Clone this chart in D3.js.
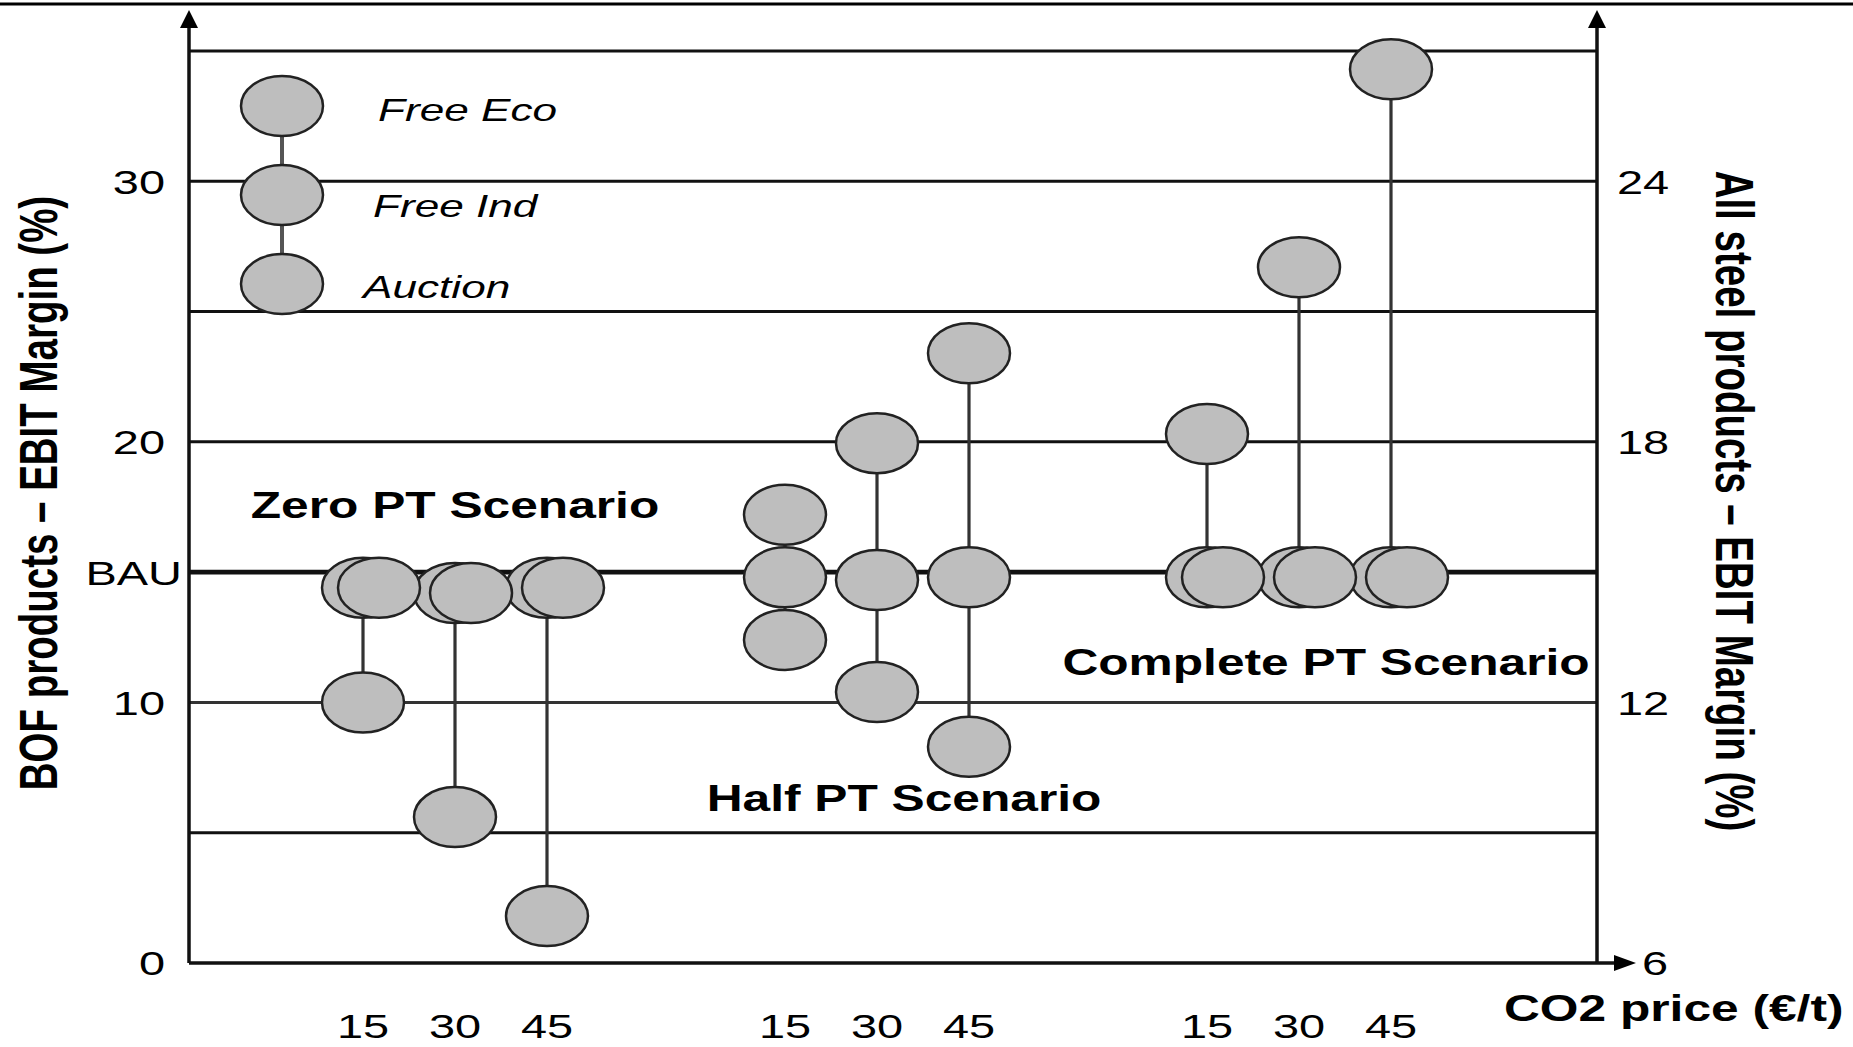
<!DOCTYPE html>
<html><head><meta charset="utf-8">
<script src="https://cdn.jsdelivr.net/npm/d3@7"></script>
<style>body{margin:0;background:#fff}svg{display:block}text{font-family:"Liberation Sans",Arial,sans-serif;fill:#000}</style>
</head><body><svg id="c" width="1853" height="1047"></svg>
<script>
const groups = ["Zero PT", "Half PT", "Complete PT"];
const groupLabels = ["Zero PT Scenario", "Half PT Scenario", "Complete PT Scenario"];
const prices = [15, 30, 45];
const seriesNames = ["Free Eco", "Free Ind", "Auction"];
// values per (group, price) in order Zero15..45, Half15..45, Complete15..45  (BOF EBIT margin %)
const freeEco = [14.4, 14.2, 14.4, 17.2, 19.95, 23.4, 20.3, 26.7, 34.3];
const freeInd = [14.4, 14.2, 14.4, 14.8, 14.7, 14.8, 14.8, 14.8, 14.8];
const auction = [10.0, 5.6, 1.8, 12.4, 10.4, 8.3, 14.8, 14.8, 14.8];
const leftTicks = [0, 10, 15, 20, 30];
const leftTickLabels = ["0", "10", "BAU", "20", "30"];
const rightTicks = [6, 12, 18, 24];
const gridValues = [5, 10, 15, 20, 25, 30, 35];

const svg = d3.select("#c");
const SX = 1.38; // horizontal text stretch of the original figure
const L = 189, R = 1597;
const y = d3.scaleLinear().domain([0, 35]).range([963, 51]);
const y2 = d3.scaleLinear().domain([6, 27]).range([963, 51]);
const xg = d3.scaleBand().domain(groups).range([244, 1510]);
const xp = d3.scalePoint().domain(prices).range([-92, 92]);
const xc = (g, p) => xg(g) + xg.bandwidth() / 2 + xp(p);

// top border
svg.append("line").attr("x1", 0).attr("x2", 1853).attr("y1", 4).attr("y2", 4).attr("stroke", "#000").attr("stroke-width", 3);

// gridlines
svg.append("g").selectAll("line").data(gridValues).join("line")
  .attr("x1", L).attr("x2", R).attr("y1", d => y(d)).attr("y2", d => y(d))
  .attr("stroke", d => d === 10 ? "#333" : "#111")
  .attr("stroke-width", d => d === 15 ? 4.8 : 3);

// left axis
const gl = svg.append("g").attr("transform", `translate(${L},0)`)
  .call(d3.axisLeft(y).tickValues(leftTicks).tickSize(0).tickFormat((d, i) => leftTickLabels[i]));
gl.select(".domain").remove();
gl.selectAll("text").attr("x", 0).attr("dy", "0.35em")
  .attr("transform", d => `translate(${d === 15 ? -7 : -24},0) scale(${SX},1)`)
  .style("font-size", "34px").attr("font-family", null);

// right axis
const gr = svg.append("g").attr("transform", `translate(${R},0)`)
  .call(d3.axisRight(y2).tickValues(rightTicks).tickSize(0));
gr.select(".domain").remove();
gr.selectAll("text").attr("x", 0).attr("dy", "0.35em")
  .attr("transform", d => `translate(${d === 6 ? 45 : 20},0) scale(${SX},1)`)
  .style("font-size", "34px").attr("font-family", null);

// axis lines with arrows
const ax = svg.append("g").attr("stroke", "#111").attr("stroke-width", 3.5);
ax.append("line").attr("x1", L).attr("x2", L).attr("y1", y(0)).attr("y2", 18);
ax.append("line").attr("x1", R).attr("x2", R).attr("y1", y(0)).attr("y2", 18);
ax.append("line").attr("x1", L).attr("x2", 1630).attr("y1", y(0)).attr("y2", y(0));
svg.append("path").attr("d", `M${L},10 L${L - 9},28 L${L + 9},28 Z`).attr("fill", "#000");
svg.append("path").attr("d", `M${R},10 L${R - 9},28 L${R + 9},28 Z`).attr("fill", "#000");
svg.append("path").attr("d", `M1636,${y(0)} L1614,${y(0) - 8} L1614,${y(0) + 8} Z`).attr("fill", "#000");

// x tick labels
const xt = [];
groups.forEach(g => prices.forEach(p => xt.push({ g, p })));
svg.append("g").selectAll("text").data(xt).join("text")
  .attr("transform", d => `translate(${xc(d.g, d.p)},1026) scale(${SX},1)`)
  .attr("text-anchor", "middle").attr("dy", "0.35em").style("font-size", "34px").text(d => d.p);

// points
const rx = 41, ry = 30;
const recs = [];
xt.forEach((d, i) => {
  const vals = [freeEco[i], freeInd[i], auction[i]];
  const cx = xc(d.g, d.p);
  recs.push({ cx, lo: d3.min(vals), hi: d3.max(vals) });
  vals.forEach((v, s) => {
    const off = (s !== 1 && Math.abs(v - freeInd[i]) < 1.2) ? 16 : 0;
    recs.push({ cx: cx + off, v, s, off, point: true });
  });
});
svg.append("g").selectAll("line").data(recs.filter(r => !r.point)).join("line")
  .attr("x1", d => d.cx).attr("x2", d => d.cx).attr("y1", d => y(d.lo)).attr("y2", d => y(d.hi))
  .attr("stroke", "#333").attr("stroke-width", 3.2);
const pts = recs.filter(r => r.point).sort((a, b) => a.off - b.off);
svg.append("g").selectAll("ellipse").data(pts).join("ellipse")
  .attr("cx", d => d.cx).attr("cy", d => y(d.v)).attr("rx", rx).attr("ry", ry)
  .attr("fill", "#bebebe").attr("stroke", "#222").attr("stroke-width", 2.5);

// legend
const legY = [106, 195, 284];
const legTextY = [110, 206, 287];
const legX = [378, 373, 363];
const lg = svg.append("g");
lg.append("line").attr("x1", 282).attr("x2", 282).attr("y1", legY[0]).attr("y2", legY[2]).attr("stroke", "#555").attr("stroke-width", 4);
lg.selectAll("ellipse").data(seriesNames).join("ellipse")
  .attr("cx", 282).attr("cy", (d, i) => legY[i]).attr("rx", rx).attr("ry", ry)
  .attr("fill", "#bebebe").attr("stroke", "#222").attr("stroke-width", 2.5);
lg.selectAll("text").data(seriesNames).join("text")
  .attr("transform", (d, i) => `translate(${legX[i]},${legTextY[i]}) scale(${SX},1)`)
  .attr("dy", "0.35em").style("font-size", "32px").style("font-style", "italic").text(d => d);

// scenario labels
const scenPos = [[455, 505], [904, 798], [1326, 662]];
svg.append("g").selectAll("text").data(groupLabels).join("text")
  .attr("transform", (d, i) => `translate(${scenPos[i][0]},${scenPos[i][1]}) scale(${SX},1)`)
  .attr("text-anchor", "middle").attr("dy", "0.35em").style("font-size", "36px").style("font-weight", "bold").text(d => d);

// axis titles
svg.append("text").attr("transform", `translate(38,493) scale(${SX},1) rotate(-90)`)
  .attr("text-anchor", "middle").attr("dy", "0.35em").style("font-size", "38.5px").style("font-weight", "bold")
  .text("BOF products – EBIT Margin (%)");
svg.append("text").attr("transform", `translate(1735,501) scale(${SX},1) rotate(90)`)
  .attr("text-anchor", "middle").attr("dy", "0.35em").style("font-size", "38.5px").style("font-weight", "bold")
  .text("All steel products – EBIT Margin (%)");
svg.append("text").attr("transform", `translate(1504,1008) scale(${SX},1)`)
  .attr("dy", "0.35em").style("font-size", "36px").style("font-weight", "bold").text("CO2 price (€/t)");
</script></body></html>
